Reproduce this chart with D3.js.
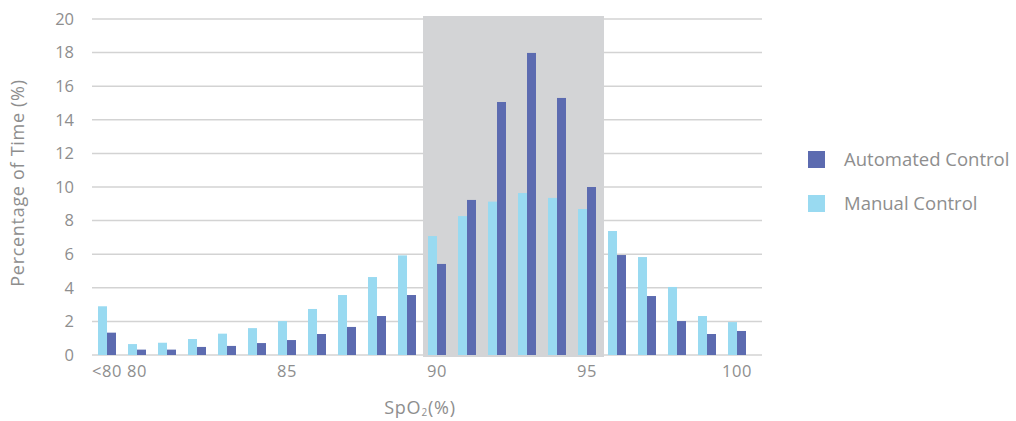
<!DOCTYPE html>
<html><head><meta charset="utf-8">
<script src="https://cdn.jsdelivr.net/npm/d3@7/dist/d3.min.js"></script>
<style>
body{margin:0;background:#fff;}
svg text{font-family:"Open Sans",Lato,sans-serif;fill:#8e8e8e;}
</style></head>
<body>
<svg id="chart" width="1016" height="421"></svg>
<script>
const categories = ["<80","80","81","82","83","84","85","86","87","88","89","90","91","92","93","94","95","96","97","98","99","100"];
const tickLabels = ["<80","80","85","90","95","100"];
const manualControl = [2.9,0.65,0.73,0.95,1.27,1.6,2.02,2.74,3.57,4.64,5.93,7.08,8.27,9.13,9.64,9.35,8.69,7.38,5.83,4.05,2.32,1.96];
const automatedControl = [1.33,0.32,0.32,0.48,0.54,0.71,0.89,1.25,1.67,2.32,3.57,5.42,9.23,15.06,17.98,15.3,10.0,5.95,3.51,2.02,1.25,1.43];
const yTicks = [0,2,4,6,8,10,12,14,16,18,20];
const highlightRange = ["90","95"];
const seriesNames = ["Automated Control","Manual Control"];

const colDark = "#5c6bb0", colLight = "#99daf1";
const svg = d3.select("#chart");
const x = d3.scaleBand().domain(categories).range([92,752]).paddingInner(0.4).paddingOuter(0.2);
const y = d3.scaleLinear().domain([0,20]).range([355,19]);
const bw = x.bandwidth();

// gridlines
svg.append("g").selectAll("line").data(yTicks).join("line")
  .attr("x1",92).attr("x2",762)
  .attr("y1",d=>y(d)).attr("y2",d=>y(d))
  .attr("stroke","#d3d3d3").attr("stroke-width",1.5);

// highlight
const hx0 = x(highlightRange[0]) - 5;
const hx1 = x(highlightRange[1]) + bw + 8;
svg.append("rect").attr("x",hx0).attr("y",y(20)-3).attr("width",hx1-hx0).attr("height",y(0)-y(20)+5)
  .attr("fill","#d3d4d6");

// bars
const g = svg.append("g");
g.selectAll("rect.m").data(categories).join("rect").attr("class","m")
  .attr("x",d=>x(d)).attr("width",bw/2)
  .attr("y",(d,i)=>y(manualControl[i])).attr("height",(d,i)=>y(0)-y(manualControl[i]))
  .attr("fill",colLight);
g.selectAll("rect.a").data(categories).join("rect").attr("class","a")
  .attr("x",d=>x(d)+bw/2).attr("width",bw/2)
  .attr("y",(d,i)=>y(automatedControl[i])).attr("height",(d,i)=>y(0)-y(automatedControl[i]))
  .attr("fill",colDark);

// y axis labels
const yAxis = d3.axisLeft(y).tickValues(yTicks).tickSize(0).tickPadding(0);
const ya = svg.append("g").attr("transform","translate(74,0)").call(yAxis);
ya.select(".domain").remove();
ya.selectAll("text").attr("font-size",16.5).style("font-family","'Open Sans', sans-serif").attr("fill","#8e8e8e");

// x axis labels
const xAxis = d3.axisBottom(x).tickValues(tickLabels).tickSize(0).tickPadding(0);
const xa = svg.append("g").attr("transform","translate(0,365)").call(xAxis);
xa.select(".domain").remove();
xa.selectAll("text").attr("font-size",16.5).style("font-family","'Open Sans', sans-serif").attr("fill","#8e8e8e")
  .attr("letter-spacing",0.5);

// axis titles
svg.append("text").attr("transform","translate(24,183) rotate(-90)").attr("text-anchor","middle")
  .attr("font-size",18).attr("letter-spacing",0.7).text("Percentage of Time (%)");
const xt = svg.append("text").attr("x",420).attr("y",414).attr("text-anchor","middle").attr("font-size",18).attr("letter-spacing",0.8);
xt.append("tspan").text("SpO");
xt.append("tspan").attr("font-size",10).attr("dy",2).text("2");
xt.append("tspan").attr("dy",-2).text("(%)");

// legend
const leg = svg.append("g");
[[seriesNames[0],colDark,151],[seriesNames[1],colLight,195]].forEach(([n,c,yy])=>{
  leg.append("rect").attr("x",808).attr("y",yy).attr("width",17).attr("height",17).attr("fill",c);
  leg.append("text").attr("x",844).attr("y",yy+8.5).attr("dy","0.35em").attr("font-size",18.5).text(n);
});
</script>
</body></html>
